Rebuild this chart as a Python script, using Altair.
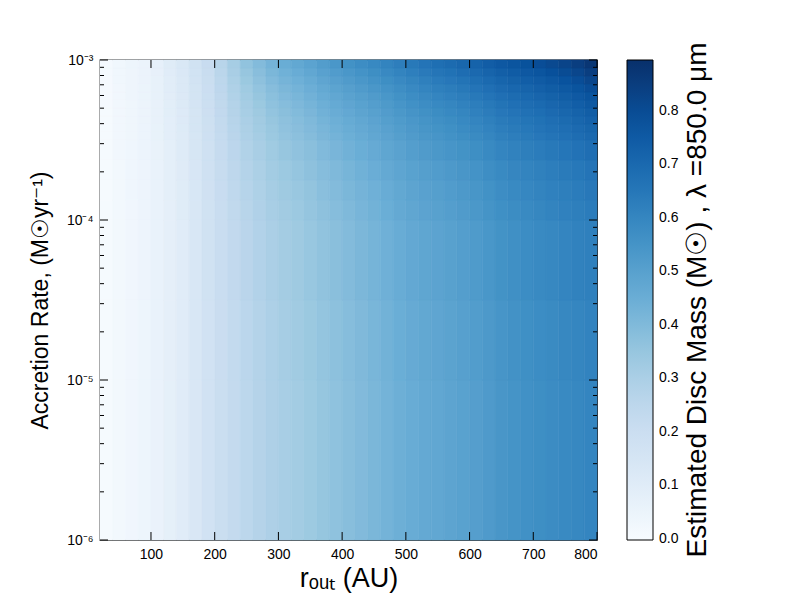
import altair as alt
import pandas as pd

# ---- data ----
# cell edges along r_out (AU)
x_edges = [20, 40, 60, 80, 100, 120, 140, 160, 180, 200, 220, 240, 260, 280,
           300, 320, 340, 360, 380, 400, 420, 440, 460, 480, 500, 520, 540,
           560, 580, 600, 620, 640, 660, 680, 700, 720, 740, 760, 780, 800]
# cell edges along accretion rate (Msun/yr)
y_edges = [1e-6, 1e-5, 3.162e-5, 1e-4, 1.334e-4, 1.778e-4, 2.371e-4, 3.162e-4,
           3.548e-4, 3.981e-4, 4.467e-4, 5.012e-4, 5.623e-4, 6.310e-4,
           7.079e-4, 7.943e-4, 8.913e-4, 1e-3]

# estimated disc mass (Msun), one list per accretion-rate band, bottom to top
row0 = [0.007, 0.020, 0.030, 0.043, 0.058, 0.078, 0.100, 0.135, 0.170, 0.203, 0.228, 0.251, 0.271,
        0.291, 0.308, 0.322, 0.336, 0.352, 0.368, 0.383, 0.397, 0.411, 0.427, 0.443, 0.456, 0.466,
        0.476, 0.486, 0.496, 0.509, 0.525, 0.541, 0.551, 0.561, 0.570, 0.578, 0.586, 0.594, 0.602]
row1 = [0.007, 0.020, 0.030, 0.043, 0.059, 0.079, 0.101, 0.136, 0.171, 0.205, 0.231, 0.254, 0.274,
        0.294, 0.312, 0.326, 0.340, 0.356, 0.372, 0.388, 0.402, 0.416, 0.432, 0.448, 0.461, 0.471,
        0.481, 0.492, 0.502, 0.515, 0.531, 0.547, 0.557, 0.567, 0.576, 0.584, 0.593, 0.601, 0.609]
row2 = [0.007, 0.021, 0.031, 0.044, 0.059, 0.080, 0.102, 0.138, 0.173, 0.207, 0.234, 0.258, 0.279,
        0.300, 0.318, 0.332, 0.347, 0.363, 0.380, 0.395, 0.409, 0.423, 0.439, 0.456, 0.469, 0.479,
        0.490, 0.500, 0.511, 0.524, 0.540, 0.556, 0.566, 0.576, 0.586, 0.594, 0.603, 0.612, 0.621]
row3 = [0.007, 0.021, 0.031, 0.044, 0.060, 0.081, 0.104, 0.140, 0.175, 0.210, 0.238, 0.264, 0.285,
        0.307, 0.325, 0.339, 0.354, 0.371, 0.388, 0.404, 0.418, 0.432, 0.448, 0.465, 0.478, 0.489,
        0.500, 0.510, 0.521, 0.534, 0.550, 0.567, 0.577, 0.587, 0.597, 0.606, 0.615, 0.624, 0.635]
row4 = [0.007, 0.022, 0.032, 0.045, 0.061, 0.082, 0.105, 0.141, 0.177, 0.213, 0.242, 0.269, 0.290,
        0.312, 0.331, 0.346, 0.360, 0.378, 0.395, 0.411, 0.425, 0.439, 0.456, 0.472, 0.486, 0.497,
        0.508, 0.519, 0.529, 0.543, 0.559, 0.575, 0.586, 0.596, 0.606, 0.615, 0.624, 0.634, 0.646]
row5 = [0.008, 0.022, 0.032, 0.045, 0.061, 0.084, 0.107, 0.143, 0.179, 0.216, 0.247, 0.275, 0.297,
        0.320, 0.338, 0.354, 0.369, 0.387, 0.404, 0.420, 0.435, 0.449, 0.465, 0.482, 0.496, 0.507,
        0.519, 0.530, 0.541, 0.554, 0.571, 0.587, 0.598, 0.608, 0.618, 0.628, 0.637, 0.648, 0.661]
row6 = [0.008, 0.023, 0.033, 0.046, 0.063, 0.085, 0.110, 0.146, 0.182, 0.220, 0.253, 0.283, 0.306,
        0.330, 0.349, 0.365, 0.380, 0.398, 0.417, 0.433, 0.448, 0.462, 0.479, 0.495, 0.510, 0.522,
        0.534, 0.545, 0.556, 0.570, 0.587, 0.603, 0.614, 0.624, 0.635, 0.645, 0.655, 0.667, 0.681]
row7 = [0.008, 0.023, 0.034, 0.047, 0.064, 0.087, 0.112, 0.148, 0.185, 0.224, 0.258, 0.290, 0.314,
        0.338, 0.358, 0.374, 0.390, 0.409, 0.428, 0.444, 0.459, 0.474, 0.490, 0.507, 0.522, 0.534,
        0.547, 0.558, 0.570, 0.584, 0.600, 0.617, 0.628, 0.638, 0.649, 0.660, 0.670, 0.683, 0.698]
row8 = [0.008, 0.024, 0.035, 0.047, 0.064, 0.088, 0.113, 0.150, 0.187, 0.227, 0.262, 0.295, 0.320,
        0.344, 0.365, 0.381, 0.397, 0.416, 0.435, 0.452, 0.467, 0.481, 0.498, 0.515, 0.530, 0.543,
        0.556, 0.567, 0.579, 0.593, 0.610, 0.627, 0.637, 0.648, 0.659, 0.670, 0.681, 0.694, 0.710]
row9 = [0.008, 0.024, 0.035, 0.048, 0.065, 0.089, 0.115, 0.152, 0.189, 0.230, 0.266, 0.300, 0.325,
        0.351, 0.371, 0.388, 0.404, 0.424, 0.443, 0.460, 0.475, 0.490, 0.507, 0.524, 0.539, 0.552,
        0.565, 0.577, 0.589, 0.603, 0.620, 0.637, 0.647, 0.658, 0.669, 0.681, 0.692, 0.706, 0.723]
row10 = [0.008, 0.025, 0.036, 0.048, 0.066, 0.091, 0.117, 0.154, 0.191, 0.233, 0.271, 0.307, 0.332,
         0.358, 0.379, 0.396, 0.413, 0.433, 0.453, 0.470, 0.485, 0.500, 0.517, 0.534, 0.549, 0.563,
         0.577, 0.589, 0.601, 0.615, 0.632, 0.649, 0.660, 0.671, 0.682, 0.694, 0.706, 0.720, 0.738]
row11 = [0.009, 0.025, 0.036, 0.049, 0.067, 0.092, 0.119, 0.156, 0.194, 0.237, 0.276, 0.314, 0.340,
         0.367, 0.388, 0.405, 0.423, 0.443, 0.463, 0.481, 0.496, 0.511, 0.528, 0.545, 0.561, 0.575,
         0.589, 0.601, 0.613, 0.628, 0.645, 0.662, 0.673, 0.684, 0.696, 0.708, 0.720, 0.736, 0.755]
row12 = [0.009, 0.026, 0.037, 0.050, 0.068, 0.094, 0.121, 0.159, 0.197, 0.241, 0.282, 0.322, 0.349,
         0.376, 0.398, 0.416, 0.433, 0.454, 0.475, 0.493, 0.508, 0.523, 0.540, 0.558, 0.574, 0.588,
         0.603, 0.616, 0.628, 0.643, 0.660, 0.677, 0.688, 0.700, 0.711, 0.724, 0.737, 0.753, 0.774]
row13 = [0.009, 0.027, 0.038, 0.050, 0.069, 0.096, 0.123, 0.162, 0.200, 0.245, 0.288, 0.330, 0.358,
         0.386, 0.409, 0.427, 0.445, 0.467, 0.488, 0.506, 0.522, 0.537, 0.554, 0.572, 0.588, 0.603,
         0.619, 0.631, 0.644, 0.659, 0.676, 0.694, 0.705, 0.716, 0.729, 0.742, 0.755, 0.773, 0.795]
row14 = [0.009, 0.028, 0.039, 0.051, 0.071, 0.098, 0.126, 0.165, 0.204, 0.250, 0.296, 0.340, 0.369,
         0.398, 0.422, 0.440, 0.459, 0.481, 0.503, 0.522, 0.537, 0.553, 0.570, 0.588, 0.604, 0.620,
         0.636, 0.649, 0.662, 0.678, 0.695, 0.713, 0.724, 0.736, 0.748, 0.762, 0.776, 0.795, 0.819]
row15 = [0.010, 0.028, 0.040, 0.052, 0.072, 0.101, 0.129, 0.169, 0.208, 0.256, 0.304, 0.351, 0.381,
         0.411, 0.436, 0.455, 0.474, 0.497, 0.519, 0.538, 0.554, 0.570, 0.588, 0.605, 0.622, 0.639,
         0.656, 0.669, 0.683, 0.698, 0.716, 0.733, 0.745, 0.757, 0.770, 0.785, 0.800, 0.819, 0.845]
row16 = [0.010, 0.029, 0.041, 0.053, 0.074, 0.104, 0.133, 0.173, 0.212, 0.263, 0.313, 0.363, 0.395,
         0.426, 0.451, 0.471, 0.491, 0.514, 0.538, 0.558, 0.574, 0.589, 0.607, 0.625, 0.643, 0.660,
         0.678, 0.692, 0.706, 0.721, 0.739, 0.757, 0.769, 0.781, 0.795, 0.810, 0.826, 0.847, 0.875]
rows = [row0, row1, row2, row3, row4, row5, row6, row7, row8, row9, row10, row11,
        row12, row13, row14, row15, row16]

# tick positions / labels
x_ticks = [100, 200, 300, 400, 500, 600, 700, 800]
y_major = [1e-6, 1e-5, 1e-4, 1e-3]
y_major_labels = ["10⁻⁶", "10⁻⁵", "10⁻⁴", "10⁻³"]
y_minor = [2e-6, 3e-6, 4e-6, 5e-6, 6e-6, 7e-6, 8e-6, 9e-6,
           2e-5, 3e-5, 4e-5, 5e-5, 6e-5, 7e-5, 8e-5, 9e-5,
           2e-4, 3e-4, 4e-4, 5e-4, 6e-4, 7e-4, 8e-4, 9e-4]
cbar_ticks = [0.0, 0.1, 0.2, 0.3, 0.4, 0.5, 0.6, 0.7, 0.8]
cbar_title = ["Estimated Disc Mass (M☉) , λ =850.0 μm"]
cmin, cmax = -0.002, 0.895

# matplotlib "Blues"
blues = ["#f7fbff", "#deebf7", "#c6dbef", "#9ecae1", "#6baed6",
         "#4292c6", "#2171b5", "#08519c", "#08306b"]
blue_domain = [cmin + (cmax - cmin) * i / (len(blues) - 1) for i in range(len(blues))]

# ---- build table ----
recs = []
for j, row in enumerate(rows):
    for i, v in enumerate(row[: len(x_edges) - 1]):
        recs.append({"x0": x_edges[i], "x1": x_edges[i + 1],
                     "y0": y_edges[j], "y1": y_edges[j + 1], "mass": v, "edge": v})
cells = pd.DataFrame(recs)

W, H = 497, 480
FONT = "Liberation Sans"

xscale = alt.Scale(domain=[20, 800], nice=False, zero=False)
yscale = alt.Scale(type="log", domain=[1e-6, 1e-3], nice=False)
cscale = alt.Scale(domain=blue_domain, range=blues, type="linear")

label_expr = (f"datum.value < 5e-6 ? '{y_major_labels[0]}' : "
              f"datum.value < 5e-5 ? '{y_major_labels[1]}' : "
              f"datum.value < 5e-4 ? '{y_major_labels[2]}' : '{y_major_labels[3]}'")

xaxis = alt.Axis(values=x_ticks, title="rₒᵤₜ (AU)", ticks=False, domain=False,
                 grid=False, labelFontSize=14, labelFont=FONT, labelPadding=7,
                 labelColor="black", titleFont=FONT, titleFontSize=27,
                 titleFontWeight="normal", titleColor="black", titlePadding=4)
yaxis = alt.Axis(values=y_major, labelExpr=label_expr,
                 title="Accretion Rate, (M☉yr⁻¹)", ticks=False, domain=False,
                 grid=False, labelFontSize=14, labelFont=FONT, labelPadding=7,
                 labelColor="black", titleFont=FONT, titleFontSize=23,
                 titleFontWeight="normal", titleColor="black", titlePadding=14)

heat = alt.Chart(cells).mark_rect(strokeWidth=0.6).encode(
    x=alt.X("x0:Q", scale=xscale, axis=xaxis),
    x2="x1:Q",
    y=alt.Y("y0:Q", scale=yscale, axis=yaxis),
    y2="y1:Q",
    color=alt.Color("mass:Q", scale=cscale,
                    legend=alt.Legend(title=None, type="gradient",
                                      values=cbar_ticks, format=".1f",
                                      gradientLength=H, gradientThickness=26,
                                      gradientStrokeColor="black", gradientStrokeWidth=1,
                                      labelFontSize=14, labelFont=FONT, labelColor="black",
                                      labelBaseline="middle",
                                      labelOverlap=False, labelOffset=6,
                                      offset=30, padding=0)),
    stroke=alt.Stroke("edge:Q", scale=cscale, legend=None),
)

xt = pd.DataFrame({"v": x_ticks})
ym = pd.DataFrame({"v": y_major})
yn = pd.DataFrame({"v": y_minor})

def xrule(y0, y1):
    return alt.Chart(xt).mark_rule(color="black", strokeWidth=1).encode(
        x=alt.X("v:Q", scale=xscale, axis=xaxis), y=alt.value(y0), y2=alt.value(y1))

def yrule(df, x0, x1):
    return alt.Chart(df).mark_rule(color="black", strokeWidth=1).encode(
        y=alt.Y("v:Q", scale=yscale, axis=yaxis), x=alt.value(x0), x2=alt.value(x1))

ticks = [
    xrule(H, H - 8), xrule(0, 8),
    yrule(ym, 0, 8), yrule(ym, W, W - 8),
    yrule(yn, 0, 4), yrule(yn, W, W - 4),
]

ctitle = alt.Chart(pd.DataFrame({"t": cbar_title})).mark_text(
    angle=270, font=FONT, fontSize=28, color="black", align="center", baseline="middle"
).encode(text="t:N", x=alt.value(W + 101), y=alt.value(H / 2))

chart = alt.layer(heat, *ticks, ctitle).resolve_scale(stroke="independent").properties(
    width=W, height=H,
    autosize=alt.AutoSizeParams(type="none"),
    padding={"left": 92, "top": 52, "right": 180, "bottom": 60},
    background="white",
).configure_view(stroke="black", strokeWidth=1.3)

chart.save("out.html", embed_options={"renderer": "svg", "actions": False})
